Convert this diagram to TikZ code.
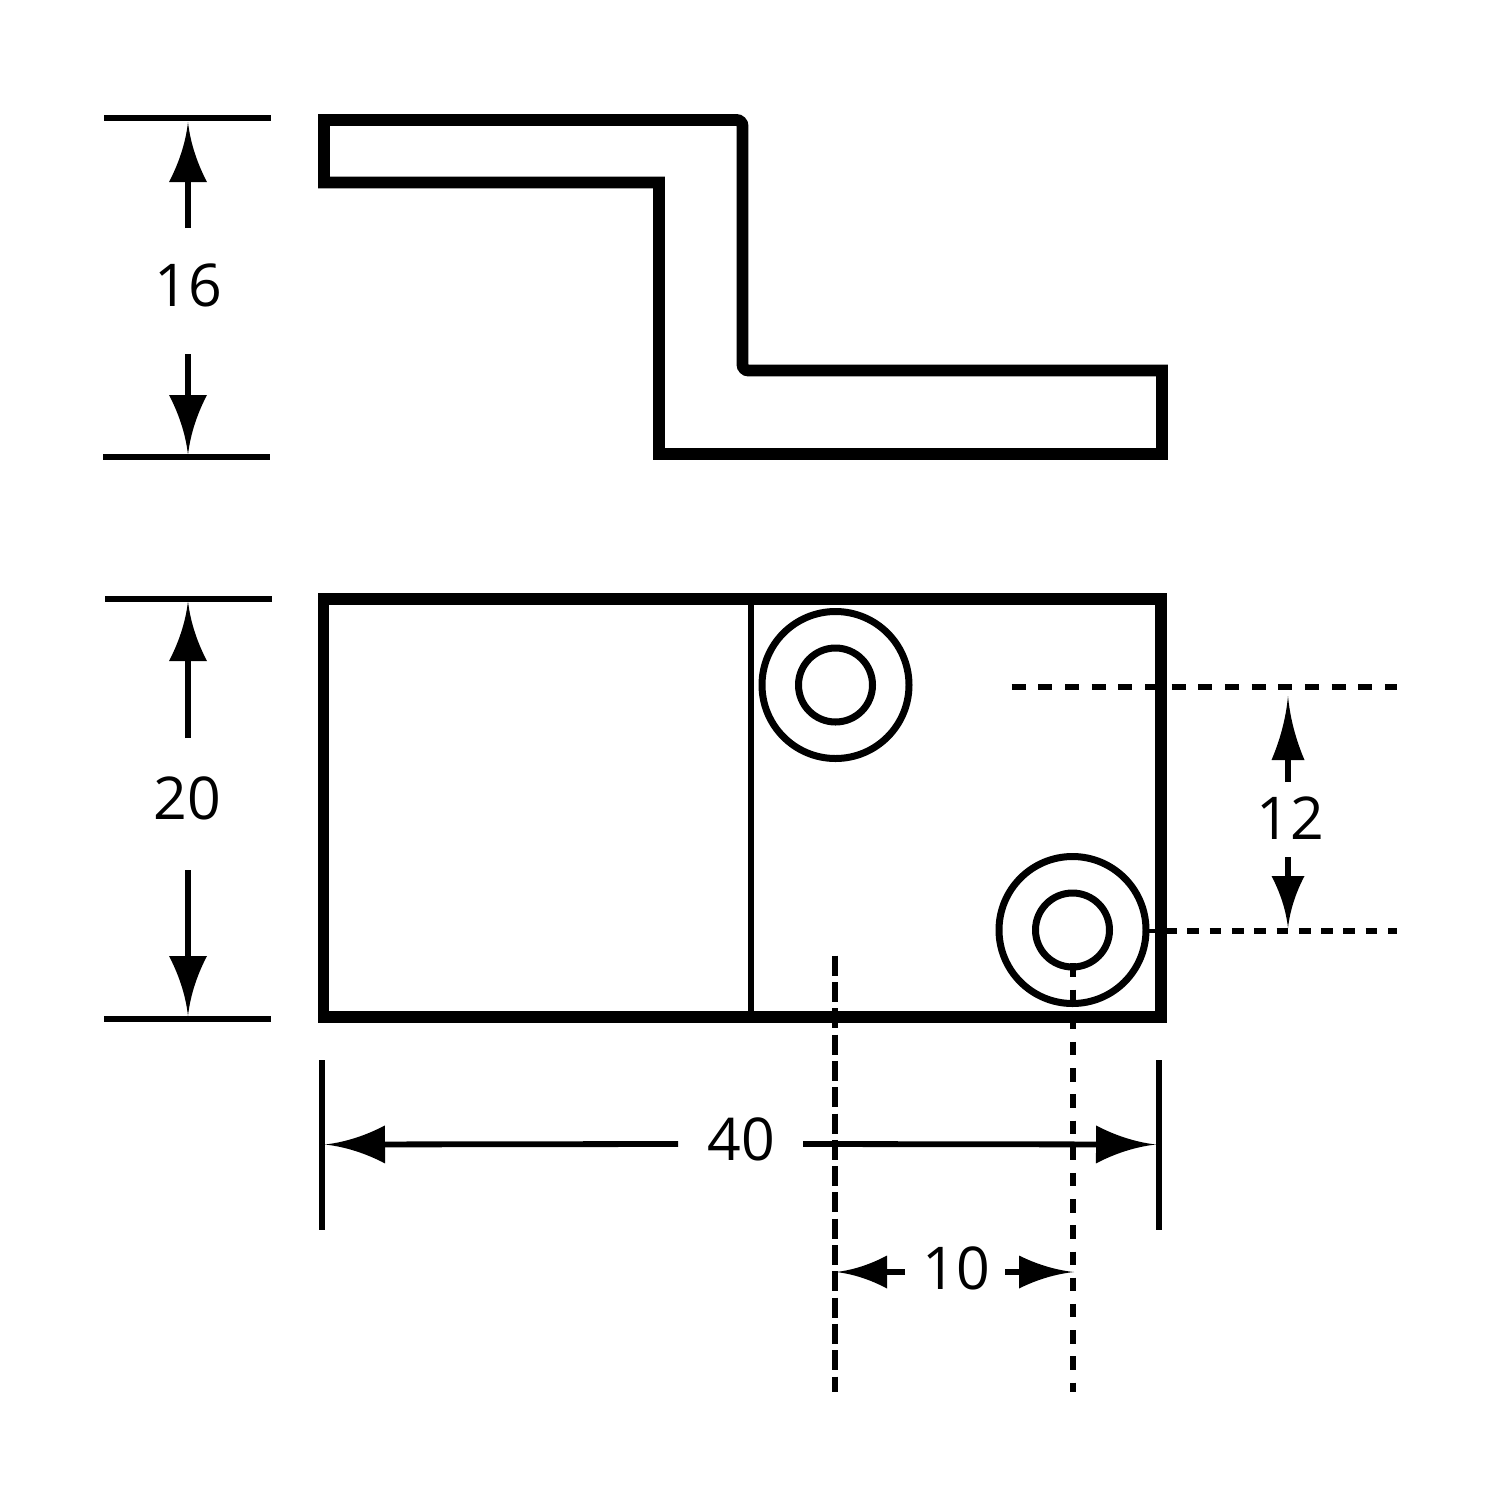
\documentclass[tikz,border=0pt]{standalone}
\usepackage{fontspec}
\setmainfont{Open Sans}
\usetikzlibrary{arrows.meta}
\pgfdeclarearrow{
  name=DimTip,
  defaults={length=30pt,width=19pt},
  parameters={\the\pgfarrowlength,\the\pgfarrowwidth},
  setup code={
    \pgfarrowssettipend{0pt}
    \pgfarrowssetbackend{-\pgfarrowlength}
    \pgfarrowssetlineend{-.9\pgfarrowlength}
    \pgfarrowssetvisualbackend{-.9\pgfarrowlength}
    \pgfarrowssavethe\pgfarrowlength
    \pgfarrowssavethe\pgfarrowwidth
  },
  drawing code={
    \pgfpathmoveto{\pgfqpoint{0pt}{0pt}}
    \pgfpathcurveto{\pgfqpoint{-.35\pgfarrowlength}{.06\pgfarrowwidth}}{\pgfqpoint{-.7\pgfarrowlength}{.25\pgfarrowwidth}}{\pgfqpoint{-\pgfarrowlength}{.5\pgfarrowwidth}}
    \pgfpathlineto{\pgfqpoint{-\pgfarrowlength}{-.5\pgfarrowwidth}}
    \pgfpathcurveto{\pgfqpoint{-.7\pgfarrowlength}{-.25\pgfarrowwidth}}{\pgfqpoint{-.35\pgfarrowlength}{-.06\pgfarrowwidth}}{\pgfqpoint{0pt}{0pt}}
    \pgfpathclose
    \pgfusepathqfill
  }
}
\tikzset{
  outline/.style={line width=5.9pt,line join=miter},
  thin line/.style={line width=3pt},
  circ/.style={line width=3.5pt},
  ext/.style={line width=2.9pt},
  dimline/.style={line width=2.9pt},
  bigtip/.style={dimline,-{DimTip[length=30pt,width=19pt]}},
  tiptwelve/.style={dimline,-{DimTip[length=#1,width=16.5pt]}},
  tipten/.style={dimline,-{DimTip[length=#1,width=16.5pt]}},
  hdashA/.style={line width=3pt,dash pattern=on 7pt off 6.33pt},
  hdashB/.style={line width=3pt,dash pattern=on 5.85pt off 5.3pt},
  vdense/.style={line width=3pt,dash pattern=on 10pt off 3.15pt},
  vsparse/.style={line width=3pt,dash pattern=on 6.7pt off 6.4pt},
  dimtext/.style={inner sep=0pt,font=\fontsize{29.5pt}{30pt}\selectfont},
}
\begin{document}
\begin{tikzpicture}[x=0.5pt,y=-0.5pt]
\useasboundingbox (0,0) rectangle (1500,1500);
% named points
\coordinate (t16a) at (104,118); \coordinate (t16b) at (271,118);
\coordinate (b16a) at (103,457); \coordinate (b16b) at (270,457);
\coordinate (a16t) at (188,122); \coordinate (s16t) at (188,228);
\coordinate (a16b) at (188,455); \coordinate (s16b) at (188,354);
\coordinate (t20a) at (105,599); \coordinate (t20b) at (272,599);
\coordinate (b20a) at (104,1019); \coordinate (b20b) at (271,1019);
\coordinate (a20t) at (188,601); \coordinate (s20t) at (188,738);
\coordinate (a20b) at (188,1016); \coordinate (s20b) at (188,870);
\coordinate (l40a) at (322,1060); \coordinate (l40b) at (322,1230);
\coordinate (r40a) at (1159,1060); \coordinate (r40b) at (1159,1230);
\coordinate (a40l) at (325,1144.5); \coordinate (s40l) at (678,1144);
\coordinate (a40r) at (1156,1144.5); \coordinate (s40r) at (803,1144);
\coordinate (a10l) at (836,1272); \coordinate (s10l) at (905,1272);
\coordinate (a10r) at (1074,1272); \coordinate (s10r) at (1005,1272);
\coordinate (a12t) at (1288,696); \coordinate (s12t) at (1288,782);
\coordinate (a12b) at (1288,928); \coordinate (s12b) at (1288,857);
\coordinate (h1a) at (1011.7,687); \coordinate (h1b) at (1397,687);
\coordinate (h2s) at (1149,930.5); \coordinate (h2a) at (1165,930.5); \coordinate (h2b) at (1397,930.5);
\coordinate (v1a) at (835,955.7); \coordinate (v1b) at (835,1392);
\coordinate (v2a) at (1073,963.3); \coordinate (v2b) at (1073,1392);
\coordinate (d1) at (751,599); \coordinate (d2) at (751,1017);
% profile view
\draw[outline] (324,120) -- (736.5,120) .. controls (739.8,120) and (742.5,122.7) .. (742.5,126)
  -- (742.5,364.5) .. controls (742.5,367.8) and (745.2,370.5) .. (748.5,370.5)
  -- (1162,370.5) -- (1162,454) -- (659,454) -- (659,182.5) -- (324,182.5) -- cycle;
% plan view
\draw[outline] (323.5,599) rectangle (1161,1017);
\draw[thin line] (d1) -- (d2);
\node[circle,draw,circ,minimum size=73.5pt,inner sep=0pt] (c1o) at (835.5,685) {};
\node[circle,draw,circ,minimum size=37pt,inner sep=0pt] (c1i) at (835.5,685) {};
\node[circle,draw,circ,minimum size=73.5pt,inner sep=0pt] (c2o) at (1072.5,930) {};
\node[circle,draw,circ,minimum size=37pt,inner sep=0pt] (c2i) at (1072.5,930) {};
% centre lines
\draw[hdashA] (h1a) -- (h1b);
\draw[line width=2pt] (h2s) -- (h2a);
\draw[hdashB] (h2a) -- (h2b);
\draw[vdense] (v1a) -- (v1b);
\draw[vsparse] (v2a) -- (v2b);
% extension lines
\draw[ext] (t16a) -- (t16b);
\draw[ext] (b16a) -- (b16b);
\draw[ext] (t20a) -- (t20b);
\draw[ext] (b20a) -- (b20b);
\draw[ext] (l40a) -- (l40b);
\draw[ext] (r40a) -- (r40b);
% dimensions
\draw[bigtip] (s16t) -- (a16t);
\draw[bigtip] (s16b) -- (a16b);
\draw[bigtip] (s20t) -- (a20t);
\draw[bigtip] (s20b) -- (a20b);
\draw[bigtip] (s40l) -- (a40l);
\draw[bigtip] (s40r) -- (a40r);
\draw[tipten=25.5pt] (s10l) -- (a10l);
\draw[tipten=27.5pt] (s10r) -- (a10r);
\draw[tiptwelve=32pt] (s12t) -- (a12t);
\draw[tiptwelve=26pt] (s12b) -- (a12b);
% labels
\node[dimtext] (n16) at (188.5,285) {16};
\node[dimtext] (n20) at (187,798.5) {20};
\node[dimtext] (n40) at (741,1139.5) {40};
\node[dimtext] (n10) at (956,1268) {10};
\node[dimtext] (n12) at (1290,818) {12};
\end{tikzpicture}
\end{document}
